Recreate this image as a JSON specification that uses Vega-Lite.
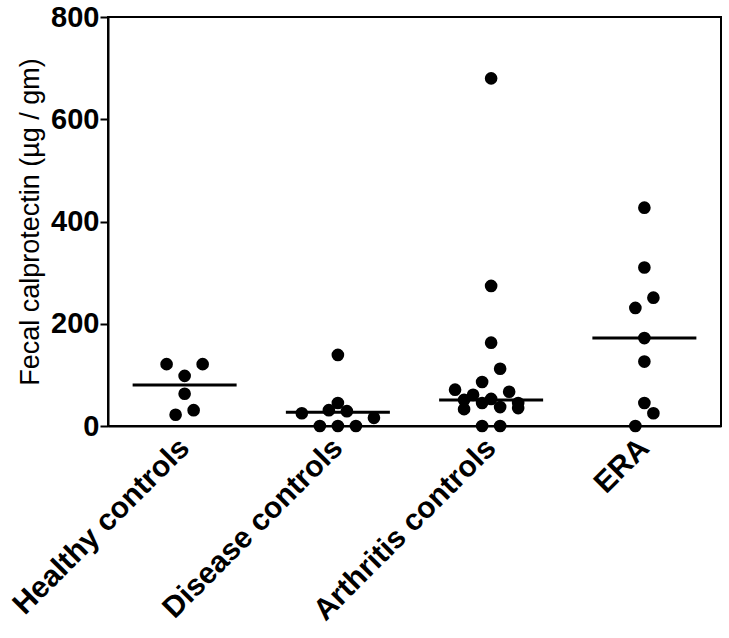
{
  "$schema": "https://vega.github.io/schema/vega-lite/v6.json",
  "width": 613,
  "height": 409,
  "autosize": {"type": "none"},
  "padding": {"left": 108, "top": 17, "right": 8, "bottom": 212},
  "background": "white",
  "config": {
    "font": "Liberation Sans",
    "view": {"stroke": "black", "strokeWidth": 2}
  },
  "datasets": {
    "points": [
      {"group": "Healthy controls", "value": 121, "slot": -2},
      {"group": "Healthy controls", "value": 121, "slot": 2},
      {"group": "Healthy controls", "value": 98, "slot": 0},
      {"group": "Healthy controls", "value": 63, "slot": 0},
      {"group": "Healthy controls", "value": 22, "slot": -1},
      {"group": "Healthy controls", "value": 31, "slot": 1},
      {"group": "Disease controls", "value": 139, "slot": 0},
      {"group": "Disease controls", "value": 45, "slot": 0},
      {"group": "Disease controls", "value": 25, "slot": -4},
      {"group": "Disease controls", "value": 31, "slot": -1},
      {"group": "Disease controls", "value": 29, "slot": 1},
      {"group": "Disease controls", "value": 16, "slot": 4},
      {"group": "Disease controls", "value": 0, "slot": -2},
      {"group": "Disease controls", "value": 0, "slot": 0},
      {"group": "Disease controls", "value": 0, "slot": 2},
      {"group": "Arthritis controls", "value": 680, "slot": 0},
      {"group": "Arthritis controls", "value": 274, "slot": 0},
      {"group": "Arthritis controls", "value": 163, "slot": 0},
      {"group": "Arthritis controls", "value": 112, "slot": 1},
      {"group": "Arthritis controls", "value": 86, "slot": -1},
      {"group": "Arthritis controls", "value": 71, "slot": -4},
      {"group": "Arthritis controls", "value": 67, "slot": 2},
      {"group": "Arthritis controls", "value": 61, "slot": -2},
      {"group": "Arthritis controls", "value": 51, "slot": -3},
      {"group": "Arthritis controls", "value": 53, "slot": 0},
      {"group": "Arthritis controls", "value": 45, "slot": -1},
      {"group": "Arthritis controls", "value": 33, "slot": -3},
      {"group": "Arthritis controls", "value": 37, "slot": 1},
      {"group": "Arthritis controls", "value": 45, "slot": 3},
      {"group": "Arthritis controls", "value": 35, "slot": 3},
      {"group": "Arthritis controls", "value": 0, "slot": -1},
      {"group": "Arthritis controls", "value": 0, "slot": 1},
      {"group": "ERA", "value": 427, "slot": 0},
      {"group": "ERA", "value": 310, "slot": 0},
      {"group": "ERA", "value": 251, "slot": 1},
      {"group": "ERA", "value": 231, "slot": -1},
      {"group": "ERA", "value": 172, "slot": 0},
      {"group": "ERA", "value": 126, "slot": 0},
      {"group": "ERA", "value": 45, "slot": 0},
      {"group": "ERA", "value": 25, "slot": 1},
      {"group": "ERA", "value": 0, "slot": -1}
    ],
    "medians": [
      {"group": "Healthy controls", "median": 80},
      {"group": "Disease controls", "median": 27},
      {"group": "Arthritis controls", "median": 51},
      {"group": "ERA", "median": 172}
    ]
  },
  "encoding": {
    "x": {
      "field": "group",
      "type": "nominal",
      "sort": ["Healthy controls", "Disease controls", "Arthritis controls", "ERA"],
      "scale": {"paddingInner": 0, "paddingOuter": 0},
      "axis": {
        "title": null,
        "labelAngle": -45,
        "labelAlign": "right",
        "labelBaseline": "middle",
        "labelFontSize": 30,
        "labelFontWeight": "bold",
        "labelColor": "black",
        "labelPadding": 17,
        "labelLimit": 400,
        "ticks": false,
        "domainColor": "black",
        "domainWidth": 2,
        "grid": false
      }
    }
  },
  "layer": [
    {
      "data": {"name": "points"},
      "mark": {"type": "point", "shape": "circle", "filled": true, "color": "black", "size": 160, "opacity": 1},
      "encoding": {
        "xOffset": {"field": "slot", "type": "quantitative", "scale": {"domain": [-8.5, 8.5]}},
        "y": {
          "field": "value",
          "type": "quantitative",
          "scale": {"domain": [0, 800], "nice": false},
          "axis": {
            "title": "Fecal calprotectin (µg / gm)",
            "titleFontSize": 27,
            "titleFontWeight": "normal",
            "titleColor": "black",
            "titlePadding": 6,
            "values": [0, 200, 400, 600, 800],
            "labelFontSize": 29,
            "labelFontWeight": "bold",
            "labelColor": "black",
            "labelPadding": 1,
            "tickColor": "black",
            "tickWidth": 2,
            "tickSize": 8,
            "domainColor": "black",
            "domainWidth": 2,
            "grid": false
          }
        }
      }
    },
    {
      "data": {"name": "medians"},
      "mark": {"type": "tick", "orient": "horizontal", "color": "black", "size": 104, "thickness": 3, "opacity": 1},
      "encoding": {
        "y": {"field": "median", "type": "quantitative"}
      }
    }
  ]
}
